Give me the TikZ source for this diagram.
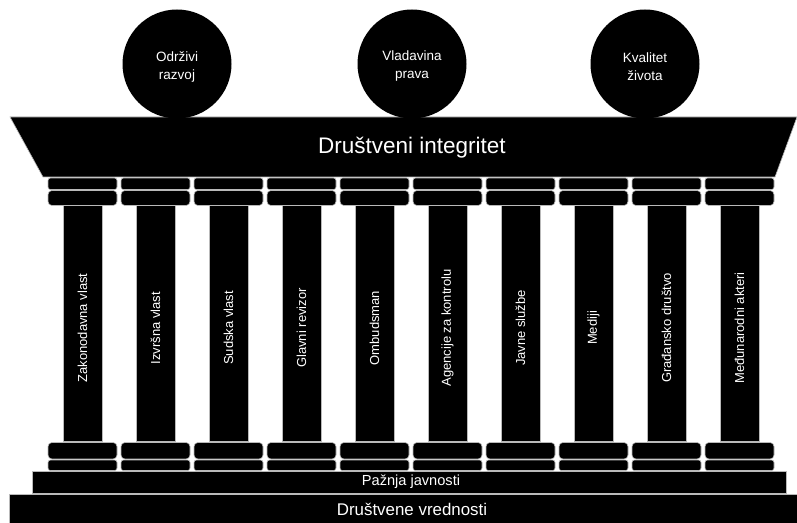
\documentclass[tikz,border=0pt]{standalone}
\usepackage{fontspec}
\setmainfont{Liberation Sans}
\begin{document}
\begin{tikzpicture}[x=1bp,y=-1bp,
  blk/.style={fill=black, draw=gray!55, line width=0.6bp},
  ball/.style={circle, fill=black, inner sep=0pt, minimum size=109bp},
  balltext/.style={text=white, align=center, inner sep=0pt, font=\fontsize{13.5bp}{18bp}\selectfont},
  colrect/.style={rectangle, fill=black, draw=gray!55, line width=0.6bp, inner sep=0pt, minimum width=39bp, minimum height=236bp},
  coltext/.style={text=white, rotate=90, font=\fontsize{13bp}{15bp}\selectfont, inner sep=0pt},
  bandtext/.style={text=white, inner sep=0pt}
]
\useasboundingbox (0,0) rectangle (797,523);
% architrave
\path[blk] (10,117) -- (797,117) -- (775,177) -- (43,177) -- cycle;
\node[bandtext, font=\fontsize{22.5bp}{26bp}\selectfont] (integ) at (412,148) {Društveni integritet};
% balls
\node[ball] (b1) at (177,64) {};
\node[ball] (b2) at (412,64) {};
\node[ball] (b3) at (645,64) {};
\node[balltext] (t1) at (177,66.5) {Održivi\\razvoj};
\node[balltext] (t2) at (412,66.5) {Vladavina\\prava};
\node[balltext] (t3) at (645,66.5) {Kvalitet\\života};
% columns
\foreach \i/\t in {0/Zakonodavna vlast,1/Izvršna vlast,2/Sudska vlast,3/Glavni revizor,4/Ombudsman,5/Agencije za kontrolu,6/Javne službe,7/Mediji,8/Građansko društvo,9/Međunarodni akteri}{
  \pgfmathsetmacro{\cx}{82.5+73*\i}
  \path[blk, rounded corners=2.5bp] (\cx-34.5,178) rectangle (\cx+34.5,189.5);
  \path[blk, rounded corners=4bp] (\cx-34.5,190.5) rectangle (\cx+34.5,205.5);
  \node[colrect] (col\i) at (\cx,323.5) {};
  \node[coltext] (lab\i) at (\cx,328) {\t};
  \path[blk, rounded corners=4bp] (\cx-34.5,442.5) rectangle (\cx+34.5,459);
  \path[blk, rounded corners=2.5bp] (\cx-34.5,460) rectangle (\cx+34.5,470.5);
}
% steps
\node[blk, rectangle, inner sep=0pt, minimum width=754bp, minimum height=22bp] (step1) at (409,482) {};
\node[bandtext, font=\fontsize{14.6bp}{17bp}\selectfont] (paz) at (411,482) {Pažnja javnosti};
\node[blk, rectangle, inner sep=0pt, minimum width=790bp, minimum height=30bp] (step2) at (404,509) {};
\node[bandtext, font=\fontsize{16.9bp}{19bp}\selectfont] (vred) at (412,509) {Društvene vrednosti};
\end{tikzpicture}
\end{document}
